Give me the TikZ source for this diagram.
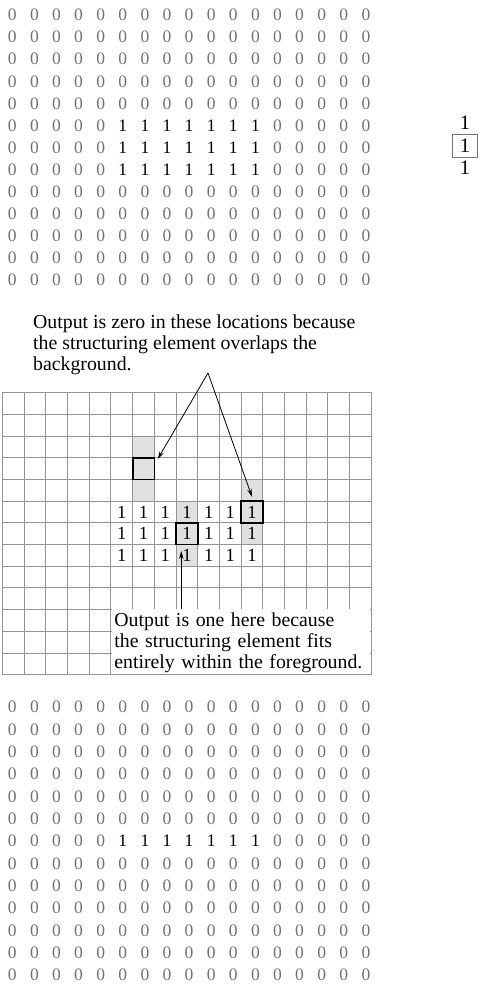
\documentclass[tikz,border=0pt]{standalone}
\usepackage{fontspec}
\setmainfont{Liberation Serif}
\usetikzlibrary{arrows.meta, positioning}

\begin{document}
\begin{tikzpicture}
    [
        x=1pt, y=-1pt,
        zero/.style = {text=black!55, font=\fontsize{17.5}{20}\selectfont, inner sep=0pt},
        one/.style = {text=black, font=\fontsize{17.5}{20}\selectfont, inner sep=0pt},
        gridone/.style = {text=black, font=\fontsize{18.5}{20}\selectfont, inner sep=0pt},
        seone/.style = {text=black, font=\fontsize{20.5}{22}\selectfont, inner sep=0pt},
        sebox/.style = {draw=black!55, line width=0.8pt, minimum width=25pt, minimum height=23pt},
        gridline/.style = {draw=black!42, line width=1pt, line cap=rect},
        shade/.style = {fill=black!12},
        hitbox/.style = {
                draw,
                line width=1.7pt,
                minimum width=21.7pt,
                minimum height=21.7pt,
                inner sep=0pt
            },
        note/.style = {
                align=left,
                inner sep=0pt,
                font=\fontsize{19.8}{21}\selectfont
            },
        pointer/.style = {-{Stealth[length=8pt,width=4.5pt]}, line width=0.8pt},
    ]

    \useasboundingbox (0,0) rectangle (495,993);

    % input image
    \foreach \r in {1,...,13} {
        \foreach \c in {1,...,17} {
            \pgfmathtruncatemacro\isone{and(and(\r>5,\r<9),and(\c>5,\c<13))}
            \ifnum\isone=1
                \node[one] (in-\r-\c) at ({12.3+22.1*(\c-1)},{15+22.1*(\r-1)}) {1};
            \else
                \node[zero] (in-\r-\c) at ({12.3+22.1*(\c-1)},{15+22.1*(\r-1)}) {0};
            \fi
        }
    }

    % structuring element
    \node[seone] (se-top) at (465,123) {1};
    \node[seone, sebox] (se-mid) at (465,145.5) {1};
    \node[seone] (se-bot) at (465,168) {1};

    % grid with the element placed on it
    \begin{scope}[shift={(2.5,392.7)}, x=21.7pt, y=-21.7pt]
        \fill[shade] (6,2) rectangle (7,5);
        \fill[shade] (11,4) rectangle (12,7);
        \fill[shade] (8,5) rectangle (9,8);
    \end{scope}
    \foreach \c in {0,...,17} {
        \pgfmathsetmacro\lx{floor(2.5+21.7*\c)+0.5}
        \draw[gridline] (\lx,392.5) -- (\lx,674.5);
    }
    \foreach \r in {0,...,13} {
        \pgfmathsetmacro\ly{floor(392.7+21.7*\r)+0.5}
        \draw[gridline] (2.5,\ly) -- (371.5,\ly);
    }
    \begin{scope}[shift={(2.5,392.7)}, x=21.7pt, y=-21.7pt]
        \foreach \r in {6,7,8} {
            \foreach \c in {6,...,12} {
                \node[gridone] (g-\r-\c) at (\c-0.5,\r-0.5) {1};
            }
        }
        \node[hitbox] (hitA) at (6.5,3.5) {};
        \node[hitbox] (hitB) at (11.5,5.5) {};
        \node[hitbox] (hitC) at (8.5,6.5) {};
        \node[note, fill=white, anchor=north west, minimum width=258pt, minimum height=67pt,
            text width=254pt, inner xsep=2pt] (fitnote) at ([xshift=1.2pt]5,9.95)
            {Output is one here because\\the structuring element fits\\entirely within the foreground.};
    \end{scope}
    \draw[gridline] (2.5,392.5) rectangle (371.5,674.5);

    \node[note, anchor=north west] (zeronote) at (33,315)
        {Output is zero in these locations because\\the structuring element overlaps the\\background.};

    \coordinate (fork) at (208,373);
    \coordinate (tipC) at ([xshift=6pt,yshift=-5.5pt]hitC.south west);
    \draw[pointer] (fork) -- ([xshift=2.5pt,yshift=-2pt]hitA.north east);
    \draw[pointer] (fork) -- ([yshift=3.5pt]hitB.north);
    \draw[pointer] (fitnote.north -| tipC) -- (tipC);

    % output image
    \foreach \r in {1,...,13} {
        \foreach \c in {1,...,17} {
            \pgfmathtruncatemacro\isone{and(\r==7,and(\c>5,\c<13))}
            \ifnum\isone=1
                \node[one] (out-\r-\c) at ({12.3+22.1*(\c-1)},{707+22.35*(\r-1)}) {1};
            \else
                \node[zero] (out-\r-\c) at ({12.3+22.1*(\c-1)},{707+22.35*(\r-1)}) {0};
            \fi
        }
    }

\end{tikzpicture}
\end{document}
